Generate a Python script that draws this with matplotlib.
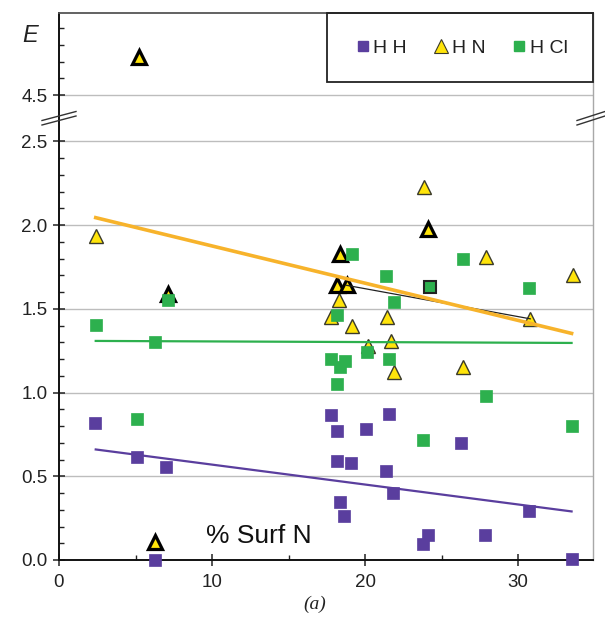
import numpy as np
import matplotlib
matplotlib.use("Agg")
import matplotlib.pyplot as plt
from matplotlib.lines import Line2D
from matplotlib.patches import Rectangle
from matplotlib.ticker import FixedLocator, FormatStrFormatter

plt.rcParams['font.family'] = ['Liberation Sans', 'DejaVu Sans']

# ---------------- data ----------------
hh_x = [2.35, 5.1, 7.0, 6.27, 17.75, 18.2, 20.07, 21.6, 26.3, 18.2, 19.1, 21.4,
        21.85, 18.37, 18.65, 24.1, 23.8, 27.85, 30.7, 33.5]
hh_y = [0.82, 0.615, 0.555, 0.0, 0.866, 0.77, 0.78, 0.87, 0.70, 0.59, 0.58, 0.53,
        0.40, 0.345, 0.26, 0.15, 0.094, 0.15, 0.29, 0.005]

hcl_x = [2.4, 6.27, 7.1, 5.1, 19.17, 26.4, 21.4, 30.7, 21.9, 18.2, 17.8, 18.7,
         18.37, 20.1, 21.6, 18.2, 27.9, 23.8, 33.5]
hcl_y = [1.405, 1.30, 1.55, 0.84, 1.825, 1.80, 1.695, 1.625, 1.54, 1.46, 1.20, 1.19,
         1.15, 1.24, 1.20, 1.05, 0.98, 0.716, 0.80]
hcl_mark_x = [24.25]
hcl_mark_y = [1.63]

hn_x = [2.42, 23.85, 27.9, 33.57, 18.3, 17.8, 21.45, 30.8, 19.17, 21.7, 20.17, 21.9, 26.4]
hn_y = [1.935, 2.225, 1.807, 1.70, 1.55, 1.45, 1.45, 1.44, 1.40, 1.31, 1.28, 1.12, 1.15]
hn_bold_x = [5.25, 7.15, 6.27, 24.14, 18.37, 18.2, 18.8]
hn_bold_y = [4.73, 1.59, 0.105, 1.975, 1.825, 1.64, 1.64]

link_x = [18.8, 30.8]
link_y = [1.64, 1.44]

trend_x = [2.4, 33.5]
hh_trend = [0.66, 0.29]
hn_trend = [2.044, 1.353]
hcl_trend = [1.308, 1.296]

series_labels = ['H H', 'H N', 'H Cl']
y_major = [0.0, 0.5, 1.0, 1.5, 2.0, 2.5, 4.5]
x_major = [0, 10, 20, 30]

# ---------------- colours ----------------
c_hh = '#5A3E9E'
c_hcl = '#2DB04E'
c_hn = '#FFE40A'
c_orange = '#F7B32B'

# ---------------- broken y scale ----------------
LO, HI, GAP = 2.5, 4.5, 0.276
SHIFT = HI - (LO + GAP)


def fwd(y):
    y = np.asarray(y, dtype=float)
    return np.where(y <= LO, y,
                    np.where(y >= HI, y - SHIFT, LO + (y - LO) * GAP / (HI - LO)))


def inv(z):
    z = np.asarray(z, dtype=float)
    return np.where(z <= LO, z,
                    np.where(z >= LO + GAP, z + SHIFT, LO + (z - LO) * (HI - LO) / GAP))


W, H = 605, 623
fig = plt.figure(figsize=(W / 100, H / 100), dpi=100)
ax = fig.add_axes([59 / W, (H - 560) / H, (593 - 59) / W, (560 - 13) / H])
ax.set_yscale('function', functions=(fwd, inv))
ax.set_ylim(0, 4.99)
ax.set_xlim(0, 34.9)

ax.yaxis.set_major_locator(FixedLocator(y_major))
minor_y = [v / 10 for v in range(0, 26) if v % 5] + [4.6, 4.7, 4.8, 4.9]
ax.yaxis.set_minor_locator(FixedLocator(minor_y))
ax.yaxis.set_major_formatter(FormatStrFormatter('%.1f'))
ax.xaxis.set_major_locator(FixedLocator(x_major))
ax.xaxis.set_minor_locator(FixedLocator([5, 15, 25]))

ax.tick_params(which='major', direction='inout', length=8.5, width=1.1, labelsize=13.5,
               color='#222222', labelcolor='#222222')
ax.tick_params(which='minor', direction='in', length=3.6, width=1.0, color='#222222')
ax.tick_params(axis='y', which='major', pad=4)
ax.tick_params(axis='x', which='major', pad=6)

for v in y_major[1:]:
    ax.axhline(v, color='#BDBDBD', lw=1.0, zorder=0)

ax.spines['left'].set_color('#111111')
ax.spines['left'].set_linewidth(1.4)
ax.spines['bottom'].set_color('#111111')
ax.spines['bottom'].set_linewidth(1.4)
ax.spines['top'].set_color('#555555')
ax.spines['top'].set_linewidth(1.3)
ax.spines['right'].set_color('#A8A8A8')
ax.spines['right'].set_linewidth(1.0)

# points
ax.plot(hh_x, hh_y, 's', ms=8.6, color=c_hh, mec=c_hh, mew=0.5, zorder=3, clip_on=False)
ax.plot(hn_x, hn_y, '^', ms=10.5, color=c_hn, mec='#3a3a2a', mew=1.0, zorder=4, clip_on=False)
ax.plot(hn_bold_x, hn_bold_y, '^', ms=10.5, color=c_hn, mec='black', mew=2.3, zorder=4,
        clip_on=False)
ax.plot(hcl_x, hcl_y, 's', ms=8.6, color=c_hcl, mec=c_hcl, mew=0.5, zorder=5, clip_on=False)
ax.plot(hcl_mark_x, hcl_mark_y, 's', ms=8.6, color=c_hcl, mec='#222222', mew=1.5, zorder=5)

# lines
ax.plot(link_x, link_y, '-', color='#222222', lw=0.9, zorder=6)
ax.plot(trend_x, hn_trend, '-', color=c_orange, lw=2.6, zorder=6)
ax.plot(trend_x, hcl_trend, '-', color=c_hcl, lw=1.6, zorder=6)
ax.plot(trend_x, hh_trend, '-', color=c_hh, lw=1.6, zorder=6)

# break marks (figure pixel positions)
def px(x, y):
    return x / W, 1 - y / H

for dy in (0, 4.5):
    for (x0, x1) in ((42, 76), (577, 605)):
        (fx0, fy0), (fx1, fy1) = px(x0, 120.5 + dy), px(x1, 111.5 + dy)
        fig.add_artist(Line2D([fx0, fx1], [fy0, fy1], transform=fig.transFigure,
                              color='#333333', lw=1.0))

# legend box
bx0, by0 = px(327, 82)
bx1, by1 = px(593, 13)
fig.add_artist(Rectangle((bx0, by0), bx1 - bx0, by1 - by0, transform=fig.transFigure,
                         fill=False, ec='#222222', lw=1.3, zorder=10))
handles = [Line2D([], [], ls='none', marker='s', ms=7, color=c_hh),
           Line2D([], [], ls='none', marker='^', ms=10, color=c_hn, mec='#3a3a2a', mew=0.8),
           Line2D([], [], ls='none', marker='s', ms=7.5, color=c_hcl)]
cx, cy = px(462, 48)
fig.legend(handles, series_labels, loc='center', bbox_to_anchor=(cx, cy), ncol=3,
           frameon=False, fontsize=14, handlelength=0.7, handletextpad=0.2,
           columnspacing=1.4, labelcolor='#222222')

# texts
fig.text(*px(30, 36), 'E', style='italic', fontsize=17, ha='center', va='center',
         color='#222222')
fig.text(*px(259, 536), '% Surf N', fontsize=19, ha='center', va='center', color='#111111')
fig.text(*px(315, 604), '(a)', style='italic', fontsize=14, ha='center', va='center',
         family=['Liberation Serif', 'DejaVu Serif'], color='#222222')

fig.savefig('out.png', dpi=100)
